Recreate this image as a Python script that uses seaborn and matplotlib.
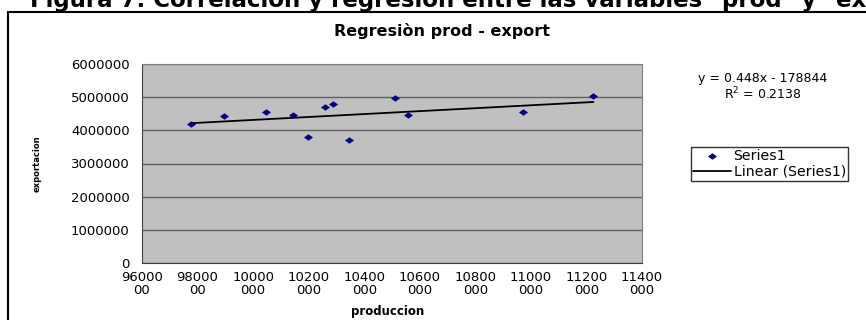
import numpy as np
import pandas as pd
import seaborn as sns
import matplotlib.pyplot as plt
from matplotlib.patches import Rectangle

# valori (produccion / exportacion)
produccion = [9775000, 9894000, 10048000, 10145000, 10197000, 10259000,
              10286000, 10346000, 10511000, 10557000, 10973000, 11225000]
exportacion = [4190000, 4420000, 4540000, 4470000, 3800000, 4700000,
               4780000, 3710000, 4960000, 4470000, 4560000, 5030000]

x_ticks = list(range(9600000, 11400001, 200000))
x_labels = [str(v)[:5] + '\n' + str(v)[5:] for v in x_ticks]
y_ticks = list(range(0, 6000001, 1000000))

df = pd.DataFrame({'produccion': produccion, 'exportacion': exportacion})

sns.set_style('white')
plt.rcParams['font.family'] = ['DejaVu Sans']
plt.rcParams['text.color'] = 'black'
plt.rcParams['axes.labelcolor'] = 'black'
plt.rcParams['xtick.color'] = 'black'
plt.rcParams['ytick.color'] = 'black'

# rombo schiacciato stile Excel
diamond = [(-1, 0), (0, 0.72), (1, 0), (0, -0.72), (-1, 0)]

fig = plt.figure(figsize=(8.66, 3.20), dpi=100)
ax = fig.add_axes([142 / 866, 57 / 320, 500 / 866, 199 / 320])
ax.set_facecolor('#c0c0c0')

sns.regplot(data=df, x='produccion', y='exportacion', ax=ax, ci=None,
            marker=diamond,
            scatter_kws={'color': '#000080', 's': 42, 'alpha': 1, 'zorder': 3, 'linewidths': 0},
            line_kws={'color': 'black', 'lw': 1.3, 'zorder': 2})

ax.set_xlim(9600000, 11400000)
ax.set_ylim(0, 6000000)
ax.set_xticks(x_ticks)
ax.set_xticklabels(x_labels, fontsize=9.5, linespacing=1.0)
ax.set_yticks(y_ticks)
ax.set_yticklabels([str(v) for v in y_ticks], fontsize=9.5)
ax.tick_params(axis='both', length=4, width=1, color='#404040', direction='out', pad=2)
ax.tick_params(axis='y', pad=5)

ax.yaxis.grid(True, color='#606060', lw=1)
ax.set_axisbelow(True)
for s in ['top', 'right']:
    ax.spines[s].set_color('#808080')
for s in ['left', 'bottom']:
    ax.spines[s].set_color('#404040')

ax.set_xlabel('produccion', fontsize=8.5, fontweight='bold')
ax.set_ylabel('exportacion', fontsize=6, fontweight='bold')
ax.xaxis.set_label_coords(0.492, -0.21)
ax.yaxis.set_label_coords(-0.2, 0.5)

# titolo e testo dell'equazione
fig.text(442 / 866, 1 - 31 / 320, 'Regresiòn prod - export', ha='center', va='center',
         fontsize=11.5, fontweight='bold')
fig.text(763 / 866, 1 - 87 / 320, 'y = 0.448x - 178844\nR$^2$ = 0.2138', ha='center',
         va='center', fontsize=9, linespacing=1.1)

# titolo della figura tagliato in alto
fig.text(30 / 866, 1 - 7 / 320,
         'Figura 7. Correlación y regresión entre las variables "prod" y "export"',
         ha='left', va='baseline', fontsize=16.5, fontweight='bold')

# bordo del grafico
fig.patches.append(Rectangle((8 / 866, -0.1), 1.2, 1 - 12 / 320 + 0.1,
                             transform=fig.transFigure, fill=False,
                             edgecolor='black', lw=1.5))

pts = ax.collections[0]
line = ax.lines[0]
leg = fig.legend([pts, line], ['Series1', 'Linear (Series1)'],
                 loc='upper left', bbox_to_anchor=(691 / 866, 1 - 147 / 320),
                 fontsize=10.2, frameon=True, fancybox=False, edgecolor='black',
                 handlelength=2.7, handletextpad=0.15, borderpad=0.15,
                 labelspacing=0.1, borderaxespad=0)
leg.get_frame().set_linewidth(1)

fig.savefig('out.png', dpi=100)
